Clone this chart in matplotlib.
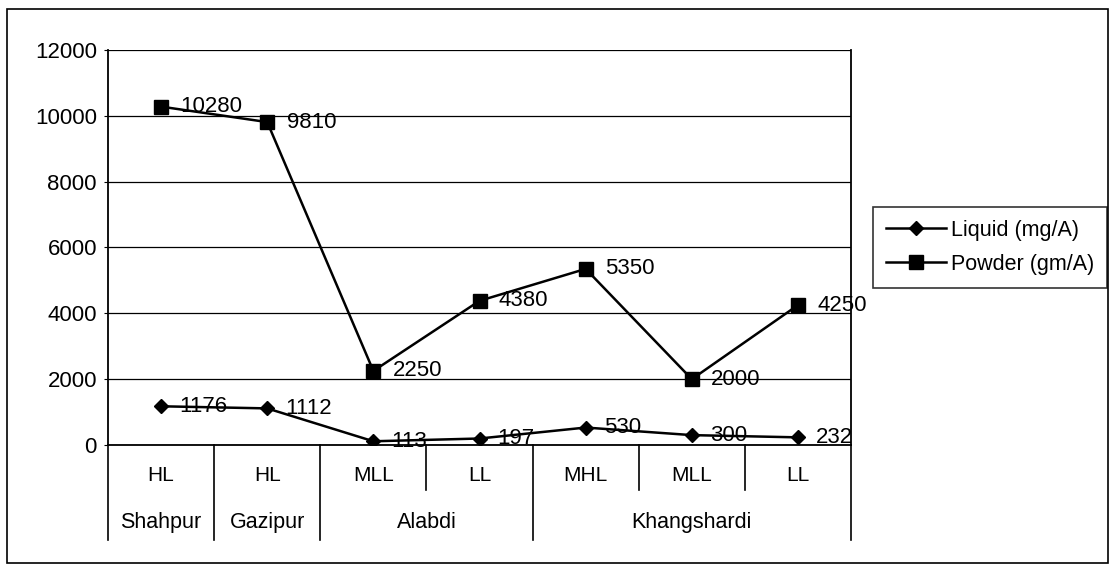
import numpy as np
import matplotlib.pyplot as plt
from matplotlib.lines import Line2D
from matplotlib.patches import Rectangle

plt.rcParams['font.family'] = ['Liberation Sans', 'DejaVu Sans']

# data
levels = ['HL', 'HL', 'MLL', 'LL', 'MHL', 'MLL', 'LL']
villages = ['Shahpur', 'Gazipur', 'Alabdi', 'Khangshardi']
village_span = [1, 1, 2, 3]
liquid = [1176, 1112, 113, 197, 530, 300, 232]
powder = [10280, 9810, 2250, 4380, 5350, 2000, 4250]

fig = plt.figure(figsize=(11.1, 5.65), dpi=100)
ax = fig.add_axes([0.0973, 0.2124, 0.6694, 0.6991])

x = np.arange(len(levels))
ax.plot(x, liquid, color='black', lw=1.8, marker='D', ms=7.5, label='Liquid (mg/A)')
ax.plot(x, powder, color='black', lw=1.8, marker='s', ms=10, label='Powder (gm/A)')

for xi, v in zip(x, liquid):
    ax.annotate(str(v), (xi, v), xytext=(13, 0), textcoords='offset points',
                va='center', ha='left', fontsize=16)
for xi, v in zip(x, powder):
    ax.annotate(str(v), (xi, v), xytext=(14, 0), textcoords='offset points',
                va='center', ha='left', fontsize=16)

ax.set_xlim(-0.5, len(levels) - 0.5)
ax.set_ylim(0, 12000)
ax.set_yticks(np.arange(0, 12001, 2000))
ax.tick_params(axis='y', labelsize=16, length=3, width=0.8, pad=5)
ax.set_xticks([])
ax.yaxis.grid(True, color='black', lw=0.9)
ax.set_axisbelow(True)
for s in ax.spines.values():
    s.set_linewidth(1.3)
ax.spines['top'].set_visible(False)

# multi-level category axis
trans = ax.get_xaxis_transform()
for xi, lab in zip(x, levels):
    ax.text(xi, -0.076, lab, transform=trans, ha='center', va='center',
            fontsize=15)
start = -0.5
group_edges = [start]
for name, span in zip(villages, village_span):
    ax.text(start + span / 2, -0.195, name, transform=trans, ha='center',
            va='center', fontsize=15.5)
    start += span
    group_edges.append(start)
for b in np.arange(-0.5, len(levels)):
    bottom = -0.24 if b in group_edges else -0.114
    ax.add_line(Line2D([b, b], [0, bottom], transform=trans, color='black',
                       lw=1.2, clip_on=False))

fig.legend(loc='upper left', bbox_to_anchor=(0.7865, 0.6336), fontsize=15.5,
           frameon=True, fancybox=False, edgecolor='black', handlelength=2.8,
           borderpad=0.6, labelspacing=0.6, handletextpad=0.2,
           borderaxespad=0)
fig.legends[0].get_frame().set_linewidth(1.2)

fig.add_artist(Rectangle((0.006, 0.004), 0.992, 0.98, transform=fig.transFigure,
                         fill=False, edgecolor='black', lw=1.2))

fig.savefig('out.png', dpi=100)
